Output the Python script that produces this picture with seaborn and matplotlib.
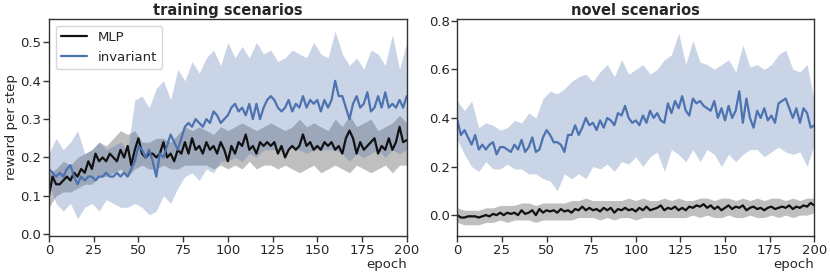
import numpy as np
import matplotlib
matplotlib.use("Agg")
import matplotlib.pyplot as plt
import seaborn as sns

# epochs for mean lines (every 2) and for the shaded bands (every 4)
epochs_line = np.arange(0, 201, 2)
epochs_band = np.arange(0, 201, 4)

# ---- training scenarios ----
train_inv_mean = [
    0.17, 0.16, 0.15, 0.16, 0.15, 0.17, 0.18, 0.15, 0.13, 0.15, 0.14, 0.15, 0.15, 0.14, 0.15, 0.15, 0.16, 0.15, 0.15, 0.16, 0.15, 0.16, 0.15, 0.17, 0.19,
    0.23, 0.22, 0.20, 0.22, 0.19, 0.15, 0.21, 0.20, 0.23, 0.26, 0.24, 0.22, 0.25, 0.28, 0.29, 0.28, 0.30, 0.29, 0.28, 0.30, 0.29, 0.32, 0.31, 0.29, 0.30,
    0.31, 0.33, 0.34, 0.32, 0.33, 0.31, 0.34, 0.30, 0.34, 0.30, 0.33, 0.35, 0.36, 0.35, 0.33, 0.32, 0.33, 0.35, 0.32, 0.34, 0.33, 0.36, 0.33, 0.35, 0.34,
    0.35, 0.32, 0.35, 0.33, 0.35, 0.40, 0.36, 0.36, 0.33, 0.30, 0.34, 0.36, 0.33, 0.34, 0.37, 0.32, 0.33, 0.36, 0.33, 0.37, 0.33, 0.34, 0.33, 0.35, 0.33, 0.36,
]
train_inv_upper = [
    0.21, 0.25, 0.22, 0.24, 0.27, 0.21, 0.22, 0.24, 0.22, 0.23, 0.24, 0.22, 0.35,
    0.36, 0.33, 0.38, 0.40, 0.35, 0.43, 0.40, 0.45, 0.42, 0.46, 0.48, 0.44,
    0.50, 0.46, 0.49, 0.46, 0.50, 0.47, 0.48, 0.45, 0.46, 0.48, 0.47, 0.46, 0.50,
    0.47, 0.46, 0.53, 0.47, 0.44, 0.46, 0.43, 0.48, 0.47, 0.44, 0.52, 0.43, 0.50,
]
train_inv_lower = [
    0.13, 0.08, 0.06, 0.08, 0.04, 0.07, 0.08, 0.06, 0.09, 0.08, 0.07, 0.07, 0.08,
    0.07, 0.05, 0.06, 0.10, 0.08, 0.12, 0.15, 0.16, 0.14, 0.17, 0.16, 0.19,
    0.19, 0.20, 0.19, 0.21, 0.20, 0.22, 0.22, 0.22, 0.21, 0.23, 0.22, 0.21, 0.22,
    0.22, 0.22, 0.22, 0.21, 0.19, 0.21, 0.20, 0.21, 0.22, 0.20, 0.22, 0.21, 0.22,
]
train_mlp_mean = [
    0.10, 0.15, 0.13, 0.13, 0.14, 0.15, 0.14, 0.16, 0.15, 0.17, 0.16, 0.19, 0.17, 0.21, 0.19, 0.20, 0.19, 0.21, 0.20, 0.19, 0.22, 0.20, 0.23, 0.18, 0.22,
    0.25, 0.21, 0.20, 0.21, 0.21, 0.20, 0.21, 0.24, 0.20, 0.21, 0.19, 0.22, 0.21, 0.24, 0.21, 0.25, 0.22, 0.23, 0.21, 0.24, 0.22, 0.23, 0.21, 0.24, 0.22,
    0.19, 0.23, 0.21, 0.24, 0.23, 0.26, 0.22, 0.23, 0.21, 0.24, 0.23, 0.24, 0.23, 0.24, 0.21, 0.23, 0.20, 0.22, 0.23, 0.22, 0.23, 0.26, 0.23, 0.24, 0.22,
    0.23, 0.22, 0.24, 0.23, 0.24, 0.22, 0.23, 0.21, 0.25, 0.27, 0.25, 0.21, 0.24, 0.22, 0.23, 0.24, 0.25, 0.21, 0.23, 0.22, 0.25, 0.22, 0.24, 0.28, 0.24, 0.245,
]
train_mlp_upper = [
    0.16, 0.17, 0.19, 0.18, 0.20, 0.21, 0.22, 0.24, 0.23, 0.25, 0.27, 0.26, 0.27,
    0.24, 0.24, 0.25, 0.25, 0.24, 0.26, 0.28, 0.27, 0.28, 0.27, 0.26, 0.28,
    0.27, 0.28, 0.29, 0.28, 0.27, 0.28, 0.29, 0.28, 0.27, 0.28, 0.30, 0.28, 0.29,
    0.28, 0.27, 0.30, 0.28, 0.31, 0.28, 0.29, 0.30, 0.27, 0.28, 0.29, 0.31, 0.29,
]
train_mlp_lower = [
    0.07, 0.10, 0.11, 0.11, 0.12, 0.13, 0.13, 0.15, 0.15, 0.16, 0.17, 0.15, 0.17,
    0.18, 0.17, 0.17, 0.18, 0.17, 0.17, 0.18, 0.18, 0.18, 0.18, 0.17, 0.18,
    0.17, 0.18, 0.17, 0.19, 0.17, 0.18, 0.18, 0.17, 0.18, 0.17, 0.16, 0.17, 0.18,
    0.16, 0.17, 0.18, 0.17, 0.16, 0.18, 0.17, 0.16, 0.17, 0.18, 0.16, 0.18, 0.18,
]

# ---- novel scenarios ----
novel_inv_mean = [
    0.39, 0.33, 0.35, 0.32, 0.29, 0.33, 0.27, 0.29, 0.27, 0.29, 0.30, 0.25, 0.28, 0.28, 0.27, 0.26, 0.29, 0.27, 0.31, 0.26, 0.28, 0.32, 0.26, 0.27, 0.32,
    0.35, 0.33, 0.30, 0.30, 0.29, 0.26, 0.33, 0.33, 0.37, 0.33, 0.36, 0.40, 0.37, 0.38, 0.35, 0.39, 0.36, 0.40, 0.39, 0.37, 0.42, 0.41, 0.45, 0.40, 0.38,
    0.39, 0.37, 0.41, 0.38, 0.43, 0.40, 0.42, 0.39, 0.38, 0.46, 0.42, 0.47, 0.44, 0.49, 0.43, 0.41, 0.48, 0.46, 0.47, 0.45, 0.44, 0.43, 0.47, 0.40, 0.44,
    0.39, 0.45, 0.40, 0.43, 0.51, 0.38, 0.48, 0.40, 0.36, 0.43, 0.40, 0.44, 0.39, 0.41, 0.38, 0.46, 0.47, 0.48, 0.44, 0.40, 0.44, 0.38, 0.44, 0.42, 0.36, 0.37,
]
novel_inv_upper = [
    0.47, 0.43, 0.47, 0.36, 0.38, 0.37, 0.35, 0.36, 0.39, 0.38, 0.42, 0.40, 0.48,
    0.51, 0.50, 0.52, 0.55, 0.57, 0.58, 0.55, 0.59, 0.62, 0.57, 0.64, 0.58,
    0.60, 0.62, 0.58, 0.60, 0.64, 0.66, 0.75, 0.62, 0.72, 0.63, 0.62, 0.60, 0.62,
    0.64, 0.59, 0.70, 0.61, 0.62, 0.60, 0.62, 0.66, 0.68, 0.60, 0.59, 0.62, 0.47,
]
novel_inv_lower = [
    0.31, 0.25, 0.20, 0.18, 0.22, 0.19, 0.19, 0.21, 0.19, 0.19, 0.17, 0.17, 0.15,
    0.14, 0.10, 0.17, 0.15, 0.17, 0.15, 0.20, 0.19, 0.21, 0.18, 0.22, 0.21,
    0.24, 0.20, 0.24, 0.26, 0.18, 0.27, 0.25, 0.22, 0.27, 0.22, 0.27, 0.25, 0.20,
    0.25, 0.22, 0.25, 0.27, 0.27, 0.24, 0.26, 0.28, 0.26, 0.25, 0.26, 0.20, 0.29,
]
novel_mlp_mean = [
    0.000, -0.010, -0.010, -0.005, -0.005, -0.005, -0.010, -0.005, 0.000, -0.005, 0.005, 0.000, 0.010, 0.000, 0.010, 0.005, 0.010, 0.000, 0.020, 0.005, 0.010, 0.020, 0.000, 0.025, 0.010,
    0.020, 0.015, 0.020, 0.010, 0.025, 0.015, 0.020, 0.010, 0.025, 0.020, 0.035, 0.020, 0.030, 0.020, 0.025, 0.015, 0.030, 0.020, 0.030, 0.010, 0.025, 0.020, 0.030, 0.020, 0.025,
    0.015, 0.030, 0.020, 0.035, 0.020, 0.025, 0.030, 0.040, 0.020, 0.030, 0.025, 0.035, 0.020, 0.030, 0.020, 0.035, 0.030, 0.040, 0.035, 0.045, 0.030, 0.040, 0.025, 0.035, 0.020,
    0.030, 0.040, 0.025, 0.035, 0.030, 0.040, 0.020, 0.030, 0.035, 0.025, 0.030, 0.020, 0.030, 0.035, 0.025, 0.030, 0.035, 0.030, 0.040, 0.025, 0.035, 0.030, 0.040, 0.035, 0.050, 0.040,
]
novel_mlp_upper = [
    0.03, 0.02, 0.02, 0.02, 0.03, 0.03, 0.04, 0.04, 0.04, 0.05, 0.05, 0.04, 0.05,
    0.05, 0.05, 0.05, 0.06, 0.06, 0.07, 0.06, 0.06, 0.06, 0.06, 0.06, 0.07,
    0.06, 0.07, 0.06, 0.06, 0.07, 0.06, 0.07, 0.06, 0.06, 0.07, 0.07, 0.06, 0.07,
    0.07, 0.06, 0.07, 0.06, 0.07, 0.06, 0.07, 0.07, 0.06, 0.07, 0.06, 0.07, 0.07,
]
novel_mlp_lower = [
    -0.03, -0.04, -0.04, -0.04, -0.03, -0.03, -0.02, -0.03, -0.02, -0.02, -0.02, -0.03, -0.02,
    -0.02, -0.02, -0.02, -0.02, -0.01, -0.01, -0.01, -0.02, -0.01, -0.02, -0.01, -0.01,
    -0.02, -0.01, -0.01, -0.01, -0.01, -0.01, -0.01, -0.01, 0.00, -0.01, 0.00, -0.01, -0.01,
    0.00, -0.01, -0.01, 0.00, -0.01, -0.01, 0.00, -0.01, 0.00, -0.01, 0.00, 0.00, 0.01,
]

BLUE = "#4c72b0"
BLACK = "#111111"

sns.set_style("ticks")
plt.rcParams["font.family"] = ["DejaVu Sans"]
plt.rcParams["font.size"] = 9.5
plt.rcParams["xtick.labelsize"] = 9.5
plt.rcParams["ytick.labelsize"] = 9.5

fig = plt.figure(figsize=(8.3, 2.77), dpi=100)
ax1 = fig.add_axes([0.059, 0.148, 0.431, 0.783])
ax2 = fig.add_axes([0.551, 0.148, 0.430, 0.783])


def draw_panel(ax, title, mlp_mean, mlp_lo, mlp_hi, inv_mean, inv_lo, inv_hi):
    ax.fill_between(epochs_band, mlp_lo, mlp_hi, color="grey", alpha=0.5, lw=0)
    ax.fill_between(epochs_band, inv_lo, inv_hi, color=BLUE, alpha=0.3, lw=0)
    sns.lineplot(x=epochs_line, y=mlp_mean, ax=ax, color=BLACK, lw=1.6, label="MLP")
    sns.lineplot(x=epochs_line, y=inv_mean, ax=ax, color=BLUE, lw=1.6, label="invariant")
    ax.set_title(title, fontweight="bold", fontsize=10.5, pad=3)
    ax.set_xlim(0, 200)
    ax.set_xticks([0, 25, 50, 75, 100, 125, 150, 175, 200])
    ax.set_xlabel("epoch", loc="right", labelpad=1)
    ax.tick_params(length=4, width=1, pad=1.5, color="#333333")
    for s in ax.spines.values():
        s.set_visible(True)
        s.set_linewidth(1.0)
        s.set_color("#333333")


draw_panel(ax1, "training scenarios", train_mlp_mean, train_mlp_lower, train_mlp_upper,
           train_inv_mean, train_inv_lower, train_inv_upper)
ax1.set_ylim(-0.005, 0.561)
ax1.set_yticks([0.0, 0.1, 0.2, 0.3, 0.4, 0.5])
ax1.set_ylabel("reward per step", labelpad=2)
ax1.legend(loc="upper left", frameon=True, fontsize=9.5, handlelength=2.0)

draw_panel(ax2, "novel scenarios", novel_mlp_mean, novel_mlp_lower, novel_mlp_upper,
           novel_inv_mean, novel_inv_lower, novel_inv_upper)
ax2.set_ylim(-0.086, 0.807)
ax2.set_yticks([0.0, 0.2, 0.4, 0.6, 0.8])
ax2.get_legend().remove()

fig.savefig("out.png", dpi=100)
